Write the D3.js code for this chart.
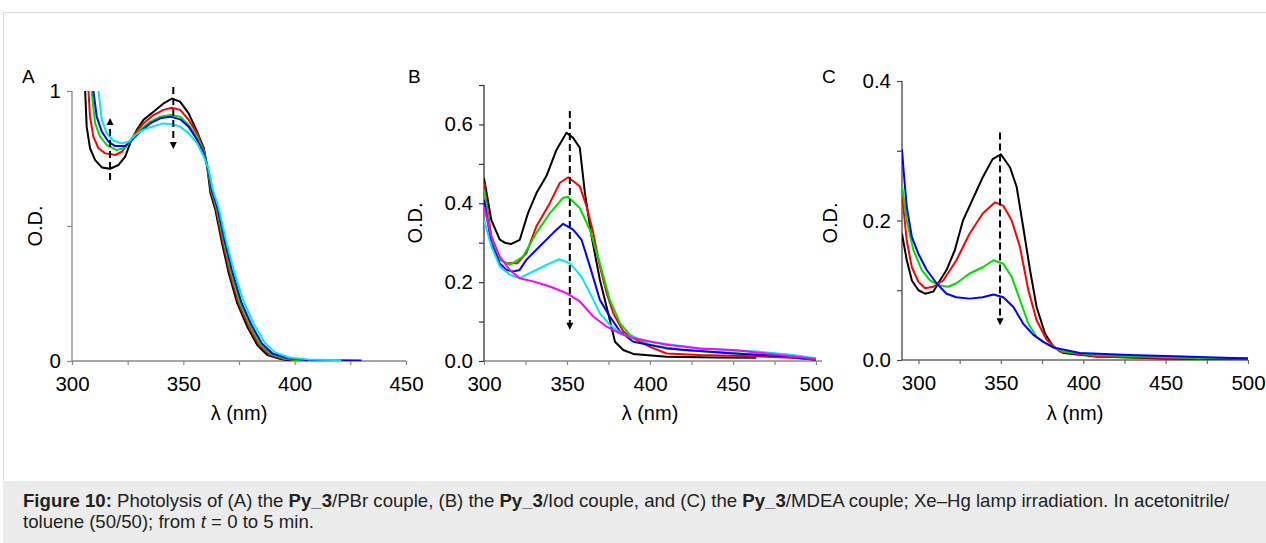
<!DOCTYPE html>
<html>
<head>
<meta charset="utf-8">
<script src="https://cdnjs.cloudflare.com/ajax/libs/d3/7.8.5/d3.min.js"></script>
<style>
  body { margin: 0; background: #fff; font-family: "Liberation Sans", Arial, sans-serif; }
  svg { display: block; }
</style>
</head>
<body>
<svg id="fig" width="1266" height="543"></svg>
<script>
// ---- data ----
var colorsA = ["#000000", "#ff0000", "#00dd00", "#0000ff", "#00e8f0"];
var colorsB = ["#000000", "#ff0000", "#00dd00", "#0000ff", "#00e8f0", "#ff00ff"];
var colorsC = ["#000000", "#ff0000", "#00dd00", "#0000ff"];

// panel A (Py_3/PBr)
var blackA = [[305.9,1.0],[306.6,0.868],[308.1,0.788],[310.4,0.744],[313.4,0.717],[317.1,0.712],[320.9,0.726],[323.9,0.757],[326.1,0.806],[329.1,0.856],[332.1,0.893],[336.6,0.923],[341.1,0.954],[344.9,0.972],[348.6,0.960],[352.4,0.917],[356.2,0.849],[359.2,0.788],[360.7,0.720],[362.2,0.621],[364.4,0.559],[367.4,0.436],[370.4,0.325],[374.2,0.214],[378.7,0.127],[383.2,0.059],[387.7,0.022],[393.7,0.007],[398,0.002],[410,0.001]];
var redA = [[307.4,1.0],[308.1,0.905],[309.6,0.831],[311.9,0.788],[314.9,0.769],[319.4,0.763],[322.4,0.775],[325.4,0.806],[328.4,0.843],[332.1,0.880],[336.6,0.911],[341.1,0.930],[344.9,0.938],[348.6,0.930],[352.4,0.893],[356.2,0.843],[359.2,0.781],[360.9,0.715],[362.5,0.625],[364.8,0.560],[367.9,0.436],[370.9,0.327],[374.8,0.215],[379.4,0.128],[384.0,0.060],[388.6,0.024],[394.6,0.008],[400,0.003],[412,0.001]];
var greenA = [[308.8,1.0],[310.4,0.880],[312.6,0.831],[315.6,0.800],[320.1,0.781],[323.9,0.791],[326.9,0.819],[330.6,0.856],[335.1,0.886],[339.6,0.905],[344.1,0.911],[348.6,0.905],[352.4,0.874],[356.2,0.831],[359.2,0.775],[361.0,0.712],[362.7,0.628],[365.1,0.562],[368.3,0.438],[371.4,0.330],[375.3,0.218],[380.0,0.130],[384.6,0.062],[389.3,0.026],[395.5,0.009],[401,0.004],[415,0.002]];
var blueA = [[309.6,1.0],[311.1,0.905],[313.4,0.849],[316.4,0.812],[319.4,0.796],[323.9,0.796],[326.9,0.819],[330.6,0.849],[335.1,0.880],[339.6,0.899],[344.1,0.905],[348.6,0.895],[352.4,0.868],[356.2,0.819],[359.2,0.769],[361.1,0.712],[362.9,0.630],[365.4,0.565],[368.7,0.440],[371.9,0.333],[375.9,0.221],[380.6,0.133],[385.3,0.065],[390.0,0.028],[396.4,0.011],[405,0.004],[430,0.002]];
var cyanA = [[311.9,1.0],[313.4,0.893],[315.6,0.843],[318.6,0.816],[322.4,0.806],[325.4,0.812],[328.4,0.837],[332.1,0.856],[336.6,0.870],[341.1,0.880],[344.9,0.877],[348.6,0.868],[352.4,0.843],[356.2,0.806],[359.2,0.757],[361.3,0.712],[363.2,0.635],[365.8,0.570],[369.2,0.445],[372.6,0.338],[376.8,0.226],[381.6,0.138],[386.4,0.070],[391.2,0.032],[397.6,0.013],[406,0.006],[421,0.003]];
var arrowsA = [[317.1, 0.67, 0.90], [345.5, 1.015, 0.785]]; // x, from, to (head at "to")

// panel B (Py_3/Iod)
var blackB = [[300,0.464],[304.4,0.358],[309.5,0.308],[313,0.299],[316.5,0.297],[321.5,0.307],[326.5,0.375],[331.6,0.426],[337.6,0.469],[343.7,0.536],[349.7,0.579],[353.7,0.566],[357.7,0.541],[360.8,0.426],[364.8,0.316],[369.8,0.206],[374.8,0.121],[378.9,0.049],[383.9,0.028],[389.9,0.018],[410,0.011],[440,0.009],[464,0.008]];
var redB = [[300,0.452],[304.4,0.316],[309.5,0.257],[313.5,0.248],[320,0.248],[325.6,0.274],[331.6,0.342],[339.7,0.401],[345.7,0.452],[350.7,0.466],[357.7,0.443],[361.8,0.392],[365.8,0.325],[369.8,0.240],[373.9,0.172],[377.9,0.121],[383.9,0.075],[389.9,0.058],[400,0.036],[410,0.019],[430,0.015],[450,0.013],[470,0.011],[485,0.008],[500,0.003]];
var greenB = [[300,0.435],[304.4,0.308],[309.5,0.257],[315.5,0.244],[323.5,0.265],[331.6,0.325],[339.7,0.375],[347.7,0.414],[350.7,0.416],[357.7,0.388],[363.8,0.333],[369.8,0.248],[375.8,0.155],[381.9,0.096],[387.9,0.066],[400,0.041],[420,0.027],[450,0.020],[475,0.014],[490,0.008],[500,0.003]];
var blueB = [[300,0.409],[304.4,0.299],[309.5,0.248],[313.5,0.231],[317.5,0.227],[321.5,0.231],[325.6,0.257],[333.6,0.291],[341.7,0.325],[347.7,0.348],[353.7,0.333],[358.7,0.308],[363.8,0.240],[369.8,0.155],[375.8,0.113],[381.9,0.075],[389.9,0.049],[410,0.032],[450,0.019],[480,0.012],[500,0.003]];
var cyanB = [[300,0.358],[304.4,0.291],[309.5,0.240],[315.5,0.219],[321.5,0.210],[329.6,0.227],[337.6,0.244],[345.3,0.258],[351.7,0.248],[358.7,0.214],[364.8,0.164],[369.8,0.121],[375.8,0.092],[383.9,0.066],[400,0.049],[430,0.032],[464,0.024],[485,0.016],[500,0.007]];
var magentaB = [[300,0.392],[304.4,0.316],[309.5,0.265],[315.5,0.231],[321.5,0.210],[329.6,0.202],[339.7,0.189],[349.7,0.172],[357.7,0.151],[365.8,0.113],[373.9,0.087],[381.9,0.070],[389.9,0.058],[410,0.041],[430,0.032],[450,0.028],[470,0.019],[485,0.012],[500,0.005]];
var arrowsB = [[351.7, 0.634, 0.079]];

// panel C (Py_3/MDEA)
var blackC = [[290,0.181],[292.9,0.143],[296,0.114],[300,0.100],[304,0.095],[309,0.098],[312,0.110],[317,0.129],[322,0.157],[327,0.200],[333,0.231],[339,0.262],[345,0.288],[350,0.295],[355.6,0.276],[359.6,0.248],[363.6,0.190],[367.7,0.129],[371.7,0.076],[376.8,0.038],[381.8,0.019],[387.9,0.010],[408,0.005],[448,0.002],[500,0.001]];
var redC = [[290,0.238],[292.9,0.171],[296,0.133],[300,0.112],[304,0.103],[309,0.105],[315,0.114],[323,0.143],[331,0.181],[339,0.210],[346.5,0.226],[351.5,0.221],[356.6,0.200],[361.6,0.162],[366.7,0.100],[371.7,0.057],[377.8,0.029],[385.9,0.012],[408,0.005],[450,0.003],[500,0.002]];
var greenC = [[290,0.250],[292.9,0.200],[297,0.157],[302,0.129],[307,0.114],[313,0.107],[318,0.105],[323,0.110],[331,0.124],[339,0.133],[345.5,0.143],[351.5,0.138],[356.6,0.119],[361.6,0.086],[366.7,0.052],[371.7,0.033],[377.8,0.023],[387.9,0.012],[408,0.007],[438,0.005],[470,0.003],[500,0.002]];
var blueC = [[290,0.302],[291,0.271],[292.9,0.219],[296,0.176],[300,0.152],[305,0.129],[311,0.110],[317,0.095],[323,0.090],[331,0.088],[339,0.090],[345.5,0.094],[351.5,0.090],[357.6,0.076],[363.6,0.052],[369.7,0.036],[375.8,0.026],[381.8,0.018],[398,0.010],[428,0.007],[460.6,0.005],[500,0.002]];
var arrowsC = [[349.5, 0.326, 0.05]];

// axis ticks
var xTicksA = [300, 325, 350, 375, 400, 425, 450];
var xLabelsA = [300, 350, 400, 450];
var yTicksA = [0, 0.5, 1];
var yLabelsA = [0, 1];
var xTicksB = [300, 325, 350, 375, 400, 425, 450, 475, 500];
var xLabelsB = [300, 350, 400, 450, 500];
var yTicksB = [0, 0.1, 0.2, 0.3, 0.4, 0.5, 0.6, 0.7];
var yLabelsB = [0, 0.2, 0.4, 0.6];
var xTicksC = [300, 325, 350, 375, 400, 425, 450, 475, 500];
var xLabelsC = [300, 350, 400, 450, 500];
var yTicksC = [0, 0.1, 0.2, 0.3, 0.4];
var yLabelsC = [0, 0.2, 0.4];


SpectraPanel = function(_svg, _cfg) {
    this.svg = _svg;
    this.cfg = _cfg;
    this.initVis();
}

SpectraPanel.prototype.initVis = function() {
    var vis = this, c = vis.cfg;

    vis.x = d3.scaleLinear().domain(c.xDomain).range([c.left, c.right]);
    vis.y = d3.scaleLinear().domain(c.yDomain).range([c.bottom, c.top]);
    vis.g = vis.svg.append("g");

    // x axis
    var xAxis = d3.axisBottom(vis.x).tickValues(c.xTicks).tickSize(4)
        .tickFormat(function(d) { return c.xLabels.indexOf(d) >= 0 ? d : ""; });
    var gx = vis.g.append("g").attr("transform", "translate(0," + c.bottom + ")").call(xAxis);
    gx.select(".domain").remove();
    gx.append("line").attr("x1", c.left).attr("x2", c.xEnd).attr("stroke", c.xAxisColor).attr("stroke-width", 1.3);
    gx.selectAll(".tick line").attr("stroke", c.xAxisColor).attr("stroke-width", 1.2);
    gx.selectAll(".tick text").attr("fill", "#000").attr("font-size", 20.5)
        .attr("font-family", "Liberation Sans, Arial, sans-serif").attr("y", 15.5);

    // y axis
    var yAxis = d3.axisLeft(vis.y).tickValues(c.yTicks).tickSize(5)
        .tickFormat(function(d) {
            return c.yLabels.some(function(v) { return Math.abs(v - d) < 1e-9; }) ? d3.format(c.yFmt)(d) : "";
        });
    var gy = vis.g.append("g").attr("transform", "translate(" + c.left + ",0)").call(yAxis);
    gy.select(".domain").remove();
    gy.append("line").attr("y1", c.bottom).attr("y2", c.top).attr("stroke", c.yAxisColor).attr("stroke-width", 1.3);
    gy.selectAll(".tick line").attr("stroke", c.yAxisColor).attr("stroke-width", 1.2);
    gy.selectAll(".tick text").attr("fill", "#000").attr("font-size", 20.5)
        .attr("font-family", "Liberation Sans, Arial, sans-serif").attr("x", -11);

    // titles
    vis.g.append("text").attr("x", c.letterX).attr("y", 83).attr("font-size", 19).text(c.letter);
    vis.g.append("text").attr("x", (c.left + c.right) / 2 + c.xTitleDx).attr("y", 420)
        .attr("text-anchor", "middle").attr("font-size", 20).text("λ (nm)");
    vis.g.append("text").attr("transform", "translate(" + c.yTitleX + "," + c.yTitleY + ") rotate(-90)")
        .attr("text-anchor", "middle").attr("font-size", 20).text("O.D.");

    vis.updateVis();
}

SpectraPanel.prototype.updateVis = function() {
    var vis = this, c = vis.cfg;

    var clipId = "clip" + c.letter;
    vis.svg.append("clipPath").attr("id", clipId).append("rect")
        .attr("x", c.left).attr("y", c.top - 1).attr("width", c.right - c.left).attr("height", c.bottom - c.top + 1);

    var line = d3.line()
        .x(function(d) { return vis.x(d[0]); })
        .y(function(d) { return vis.y(d[1]); })
        .curve(d3.curveLinear);

    vis.g.append("g").attr("clip-path", "url(#" + clipId + ")")
        .selectAll("path")
        .data(c.series)
        .enter()
        .append("path")
        .attr("d", function(d) { return line(d); })
        .attr("fill", "none")
        .attr("stroke", function(d, i) { return c.colors[i]; })
        .attr("stroke-width", 2)
        .attr("stroke-linejoin", "round");

    // dashed arrows
    var arr = vis.g.append("g");
    c.arrows.forEach(function(a) {
        var xp = vis.x(a[0]), y0 = vis.y(a[1]), y1 = vis.y(a[2]);
        var dir = y1 > y0 ? 1 : -1;
        arr.append("line").attr("x1", xp).attr("x2", xp).attr("y1", y0).attr("y2", y1 - dir * 5)
            .attr("stroke", "#000").attr("stroke-width", 2).attr("stroke-dasharray", "7,4");
        arr.append("path")
            .attr("d", "M" + (xp - 3.5) + "," + (y1 - dir * 7) + "L" + (xp + 3.5) + "," + (y1 - dir * 7) + "L" + xp + "," + y1 + "Z")
            .attr("fill", "#000");
    });
}

var svg = d3.select("#fig");

// frame and caption box
svg.append("line").attr("x1", 3).attr("x2", 1266).attr("y1", 12.5).attr("y2", 12.5).attr("stroke", "#dcdcdc");
svg.append("line").attr("x1", 3.5).attr("x2", 3.5).attr("y1", 12).attr("y2", 481).attr("stroke", "#dcdcdc");
svg.append("rect").attr("x", 3).attr("y", 481).attr("width", 1263).attr("height", 62).attr("fill", "#ececec");

var cap = svg.append("text").attr("x", 23).attr("y", 507).attr("font-size", 18.6).attr("fill", "#222");
cap.append("tspan").attr("font-weight", "bold").text("Figure 10:");
cap.append("tspan").text(" Photolysis of (A) the ");
cap.append("tspan").attr("font-weight", "bold").text("Py_3");
cap.append("tspan").text("/PBr couple, (B) the ");
cap.append("tspan").attr("font-weight", "bold").text("Py_3");
cap.append("tspan").text("/Iod couple, and (C) the ");
cap.append("tspan").attr("font-weight", "bold").text("Py_3");
cap.append("tspan").text("/MDEA couple; Xe–Hg lamp irradiation. In acetonitrile/");
var cap2 = svg.append("text").attr("x", 23).attr("y", 528).attr("font-size", 18.6).attr("fill", "#222");
cap2.append("tspan").text("toluene (50/50); from ");
cap2.append("tspan").attr("font-style", "italic").text("t");
cap2.append("tspan").text(" = 0 to 5 min.");

new SpectraPanel(svg, {
    letter: "A", letterX: 22, left: 72, right: 406, xEnd: 406, top: 91, bottom: 361,
    xDomain: [300, 450], yDomain: [0, 1], xTicks: xTicksA, xLabels: xLabelsA,
    yTicks: yTicksA, yLabels: yLabelsA, yFmt: "d",
    xAxisColor: "#888", yAxisColor: "#888", xTitleDx: 0, yTitleX: 42, yTitleY: 226,
    series: [blackA, redA, greenA, blueA, cyanA], colors: colorsA, arrows: arrowsA
});
new SpectraPanel(svg, {
    letter: "B", letterX: 408, left: 484, right: 816, xEnd: 822, top: 85, bottom: 361,
    xDomain: [300, 500], yDomain: [0, 0.7], xTicks: xTicksB, xLabels: xLabelsB,
    yTicks: yTicksB, yLabels: yLabelsB, yFmt: ".1f",
    xAxisColor: "#888", yAxisColor: "#333", xTitleDx: 0, yTitleX: 422, yTitleY: 223,
    series: [blackB, redB, greenB, blueB, cyanB, magentaB], colors: colorsB, arrows: arrowsB
});
new SpectraPanel(svg, {
    letter: "C", letterX: 822, left: 902, right: 1248, xEnd: 1248, top: 81, bottom: 360,
    xDomain: [290, 500], yDomain: [0, 0.4], xTicks: xTicksC, xLabels: xLabelsC,
    yTicks: yTicksC, yLabels: yLabelsC, yFmt: ".1f",
    xAxisColor: "#666", yAxisColor: "#444", xTitleDx: 0, yTitleX: 837, yTitleY: 223,
    series: [blackC, redC, greenC, blueC], colors: colorsC, arrows: arrowsC
});
</script>
</body>
</html>
